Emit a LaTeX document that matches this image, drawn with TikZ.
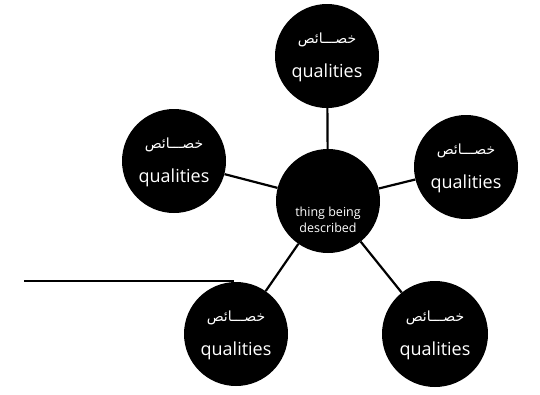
\documentclass[tikz,border=0pt]{standalone}
\usepackage{fontspec}
\setmainfont{Open Sans}
\TeXXeTstate=1
\newfontfamily\arabicfont[Script=Arabic]{DejaVu Sans}
\begin{document}
\begin{tikzpicture}[x=1pt,y=-1pt,
  bubble/.style={circle,fill=black,minimum size=104pt,inner sep=0pt},
  bubtext/.style={text=white,align=center,font=\fontsize{18}{22}\selectfont},
  arlabel/.style={text=white,font=\arabicfont\fontsize{14}{17}\selectfont},
  link/.style={line width=2.2pt,black}]
\useasboundingbox (0,0) rectangle (540,394);
\node[bubble] (top) at (327,56) {};
\node[bubble] (left) at (174,161) {};
\node[bubble] (right) at (466,167) {};
\node[bubble] (center) at (328,201) {};
\node[bubble] (bl) at (236,334) {};
\node[bubble,minimum size=106pt] (br) at (435,334) {};
\foreach \n in {top,left,right,bl,br}{
  \node[arlabel] (\n-ar) at ([yshift=16pt]\n.center) {\beginR خصـــائص\endR};
  \node[bubtext] (\n-q) at ([yshift=-17pt]\n.center) {qualities};
}
\node[text=white,align=center,font=\fontsize{12.5}{16}\selectfont] (center-t) at ([yshift=-19pt]center.center) {thing being\\described};
\draw[link] (top) -- (center);
\draw[link] (left) -- (center);
\draw[link] (right) -- (center);
\draw[link] (bl) -- (center);
\draw[link] (br) -- (center);
\coordinate (linestart) at (24,281);
\coordinate (lineend) at (234,281);
\draw[line width=1.6pt] (linestart) -- (lineend);
\end{tikzpicture}
\end{document}
